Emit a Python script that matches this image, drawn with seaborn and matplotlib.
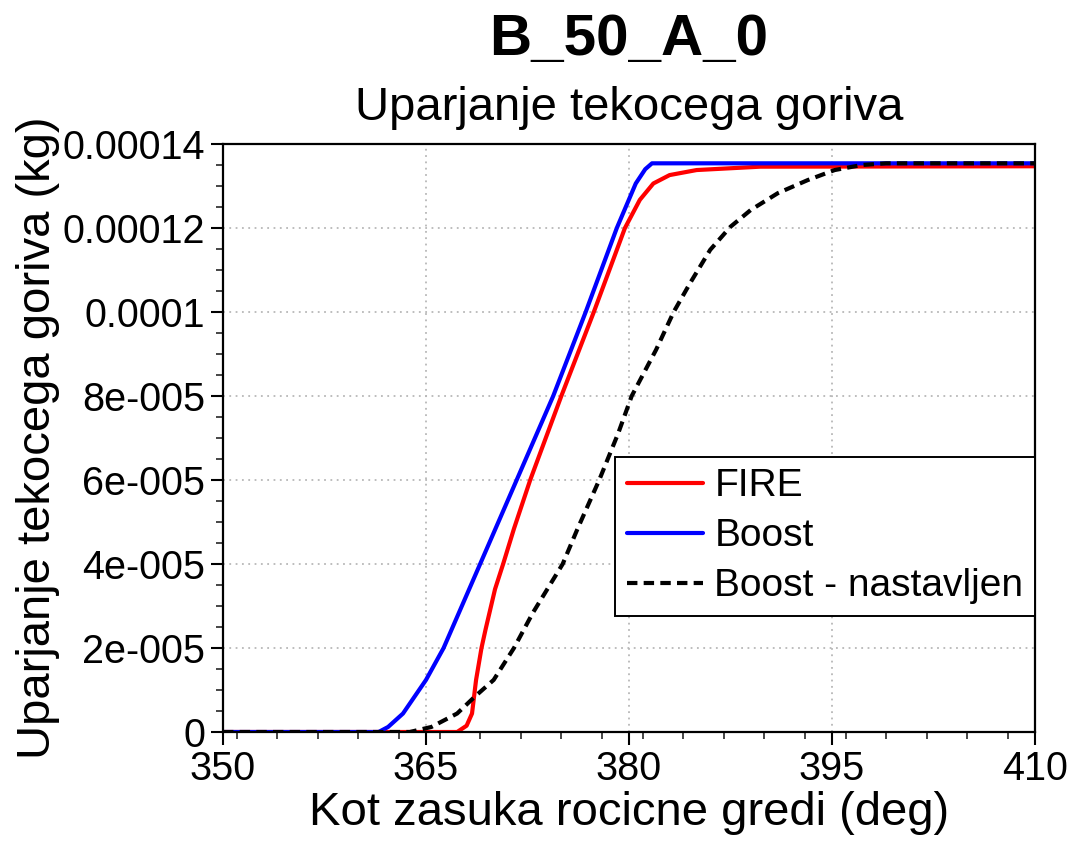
import numpy as np
import pandas as pd
import matplotlib
matplotlib.use("Agg")
import matplotlib.pyplot as plt
import seaborn as sns
from matplotlib.ticker import MultipleLocator, FixedLocator, FixedFormatter

# ---- data ----
fire_x = [350, 367.3, 368.0, 368.4, 368.7, 369.1, 369.4, 370.1, 370.7, 371.5, 372.7,
          375.0, 377.4, 379.7, 380.8, 381.8, 383.0, 385.0, 389.7, 410]
fire_y = [0, 0, 0.15, 0.44, 1.24, 2.0, 2.44, 3.4, 4.0, 4.84, 6.0,
          8.0, 10.0, 12.0, 12.67, 13.06, 13.26, 13.38, 13.46, 13.47]

boost_x = [350, 361.5, 362.2, 363.3, 365.0, 366.3, 369.0, 371.7, 374.4, 376.8,
           379.1, 380.5, 381.2, 381.7, 410]
boost_y = [0, 0, 0.12, 0.44, 1.24, 2.0, 4.0, 6.0, 8.0, 10.0,
           12.0, 13.06, 13.4, 13.54, 13.54]

nast_x = [350, 363.8, 365.4, 367.3, 368.6, 370.0, 371.5, 372.9, 375.1, 376.2,
          377.8, 379.2, 380.2, 382.0, 383.3, 384.5, 386.0, 387.5, 389.0, 391.0,
          393.2, 395.2, 397.2, 399.0, 410]
nast_y = [0, 0, 0.12, 0.44, 0.84, 1.24, 2.0, 2.84, 4.0, 4.84,
          6.0, 7.11, 8.0, 9.1, 10.0, 10.68, 11.48, 12.03, 12.43, 12.83,
          13.14, 13.38, 13.5, 13.54, 13.54]

labels = ["FIRE", "Boost", "Boost - nastavljen"]
colors = ["#ff0000", "#0000ff", "#000000"]
scale = 1e-5

x_ticks = [350, 365, 380, 395, 410]
y_ticks = [0, 2e-5, 4e-5, 6e-5, 8e-5, 1e-4, 1.2e-4, 1.4e-4]
y_ticklabels = ["0", "2e-005", "4e-005", "6e-005", "8e-005", "0.0001", "0.00012", "0.00014"]

title = "B_50_A_0"
subtitle = "Uparjanje tekocega goriva"
xlabel = "Kot zasuka rocicne gredi (deg)"
ylabel = "Uparjanje tekocega goriva (kg)"

# ---- build long-form frame ----
frames = []
for lab, xs, ys in zip(labels, [fire_x, boost_x, nast_x], [fire_y, boost_y, nast_y]):
    frames.append(pd.DataFrame({"x": xs, "y": np.array(ys) * scale, "series": lab}))
df = pd.concat(frames, ignore_index=True)

sns.set_theme(style="white")
plt.rcParams["font.family"] = ["Liberation Sans", "DejaVu Sans"]

LW = 3.0

fig = plt.figure(figsize=(10.78, 8.49), dpi=100)
ax = fig.add_axes([223 / 1078, 1 - 732 / 849, (1035 - 223) / 1078, (732 - 144) / 849])

sns.lineplot(data=df, x="x", y="y", hue="series", style="series",
             hue_order=labels, style_order=labels,
             palette=dict(zip(labels, colors)),
             dashes={"FIRE": "", "Boost": "", "Boost - nastavljen": (2.5, 1.5)},
             estimator=None, sort=False, ax=ax, legend=True)
for line in ax.get_lines():
    line.set_linewidth(LW)

ax.set_xlim(350, 410)
ax.set_ylim(0, 1.4e-4)
ax.xaxis.set_major_locator(FixedLocator(x_ticks))
ax.xaxis.set_minor_locator(MultipleLocator(3))
ax.yaxis.set_major_locator(FixedLocator(y_ticks))
ax.yaxis.set_major_formatter(FixedFormatter(y_ticklabels))
ax.yaxis.set_minor_locator(MultipleLocator(0.5e-5))

ax.tick_params(axis="both", which="major", direction="out", length=9, width=1.5,
               labelsize=28.5, colors="black", pad=4,
               bottom=True, left=True, top=False, right=False)
ax.tick_params(axis="both", which="minor", direction="out", length=5, width=1.2,
               bottom=True, left=True, top=False, right=False)

ax.grid(True, which="major", color="#b8b8b8", linestyle=(0, (1, 2.5)), linewidth=1.3)
for s in ax.spines.values():
    s.set_visible(True)
    s.set_color("black")
    s.set_linewidth(1.6)

ax.set_xlabel(xlabel, fontsize=34, color="black", labelpad=2)
ax.set_ylabel(ylabel, fontsize=34, color="black", labelpad=2)

fig.text(629 / 1078, 1 - 40 / 849, title, ha="center", va="center",
         fontsize=42, fontweight="bold", color="black")
fig.text(629 / 1078, 1 - 108 / 849, subtitle, ha="center", va="center",
         fontsize=34, color="black")

leg = ax.legend(loc="lower right", bbox_to_anchor=(1.0, (732 - 616) / 588),
                fontsize=28, frameon=True, fancybox=False, edgecolor="black",
                framealpha=1, handlelength=1.95, handletextpad=0.3,
                labelspacing=0.36, borderpad=0.3, borderaxespad=0)
leg.get_frame().set_linewidth(1.4)
for line in leg.get_lines():
    line.set_linewidth(LW)
for t in leg.get_texts():
    t.set_color("black")

fig.savefig("out.png", dpi=100)
